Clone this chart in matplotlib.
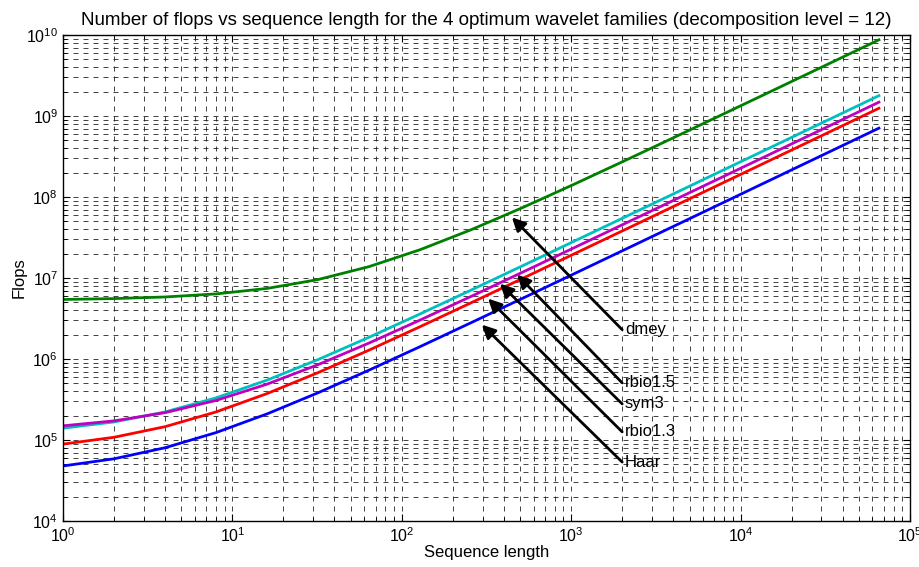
import matplotlib
matplotlib.use("Agg")
import matplotlib.pyplot as plt
from matplotlib.ticker import LogLocator, NullFormatter

plt.rcParams['font.family'] = ['Liberation Sans', 'DejaVu Sans']
plt.rcParams['mathtext.fontset'] = 'custom'
plt.rcParams['mathtext.rm'] = 'Liberation Sans'
plt.rcParams['mathtext.default'] = 'regular'

seq_len = [1, 2, 4, 8, 16, 32, 64, 128, 256, 512, 1024, 2048, 4096, 8192,
           16384, 32768, 65536]

dmey = [5.43e6, 5.57e6, 5.83e6, 6.36e6, 7.43e6, 9.56e6, 1.381e7, 2.232e7,
        3.935e7, 7.34e7, 1.415e8, 2.777e8, 5.50e8, 1.095e9, 2.184e9, 4.363e9,
        8.72e9]
rbio15 = [1.40e5, 1.67e5, 2.22e5, 3.31e5, 5.48e5, 9.83e5, 1.854e6, 3.595e6,
          7.08e6, 1.404e7, 2.80e7, 5.58e7, 1.115e8, 2.229e8, 4.458e8, 8.914e8,
          1.7827e9]
sym3 = [1.496e5, 1.722e5, 2.174e5, 3.078e5, 4.886e5, 8.502e5, 1.573e6,
        3.020e6, 5.913e6, 1.170e7, 2.327e7, 4.641e7, 9.27e7, 1.853e8, 3.704e8,
        7.407e8, 1.4812e9]
rbio13 = [8.9e4, 1.08e5, 1.46e5, 2.22e5, 3.74e5, 6.78e5, 1.286e6, 2.502e6,
          4.934e6, 9.80e6, 1.953e7, 3.898e7, 7.79e7, 1.557e8, 3.113e8,
          6.226e8, 1.2452e9]
haar = [4.78e4, 5.86e4, 8.02e4, 1.234e5, 2.098e5, 3.826e5, 7.282e5, 1.419e6,
        2.802e6, 5.567e6, 1.110e7, 2.216e7, 4.427e7, 8.85e7, 1.770e8,
        3.539e8, 7.078e8]

labels = ['dmey', 'rbio1.5', 'sym3', 'rbio1.3', 'Haar']
label_xy = [(2000, 2.3e6), (2000, 5.07e5), (2000, 2.79e5), (2000, 1.26e5),
            (2000, 5.34e4)]
arrow_xy = [(447, 5.6e7), (479, 1.1e7), (380, 8.5e6), (323, 5.56e6),
            (297, 2.65e6)]

fig = plt.figure(figsize=(9.2, 5.67), dpi=100)
ax = fig.add_axes([63 / 920, 1 - 521 / 567, (910 - 63) / 920, (521 - 35) / 567])

ax.loglog(seq_len, dmey, color='#008000', lw=2)
ax.loglog(seq_len, rbio15, color='#00bfbf', lw=2)
ax.loglog(seq_len, sym3, color='#bf00bf', lw=2)
ax.loglog(seq_len, rbio13, color='#ff0000', lw=2)
ax.loglog(seq_len, haar, color='#0000ff', lw=2)

ax.set_xlim(1, 1e5)
ax.set_ylim(1e4, 1e10)
ax.xaxis.set_major_locator(LogLocator(base=10, numticks=10))
ax.yaxis.set_major_locator(LogLocator(base=10, numticks=10))
ax.xaxis.set_minor_locator(LogLocator(base=10, subs=range(2, 10), numticks=20))
ax.yaxis.set_minor_locator(LogLocator(base=10, subs=range(2, 10), numticks=20))
ax.xaxis.set_minor_formatter(NullFormatter())
ax.yaxis.set_minor_formatter(NullFormatter())

ax.grid(True, which='both', linestyle=(0, (6, 6)), color='#222222', lw=0.6)
ax.set_axisbelow(True)
ax.tick_params(which='both', direction='in', top=True, right=True,
               labelsize=11.5, color='black')
ax.tick_params(which='major', length=5)
ax.tick_params(which='minor', length=3)
for s in ax.spines.values():
    s.set_linewidth(1.0)
    s.set_color('black')

for lab, (tx, ty), (hx, hy) in zip(labels, label_xy, arrow_xy):
    ax.annotate('', xy=(hx, hy), xytext=(tx, ty),
                arrowprops=dict(arrowstyle='-|>', color='black', lw=2,
                                mutation_scale=20, shrinkA=0, shrinkB=0))
    ax.text(tx * 1.04, ty, lab, ha='left', va='center', fontsize=12)

ax.set_title('Number of flops vs sequence length for the 4 optimum wavelet '
             'families (decomposition level = 12)', fontsize=13.5, pad=7)
ax.set_xlabel('Sequence length', fontsize=12, labelpad=0)
ax.set_ylabel('Flops', fontsize=12, labelpad=0)

fig.savefig('out.png', dpi=100)
